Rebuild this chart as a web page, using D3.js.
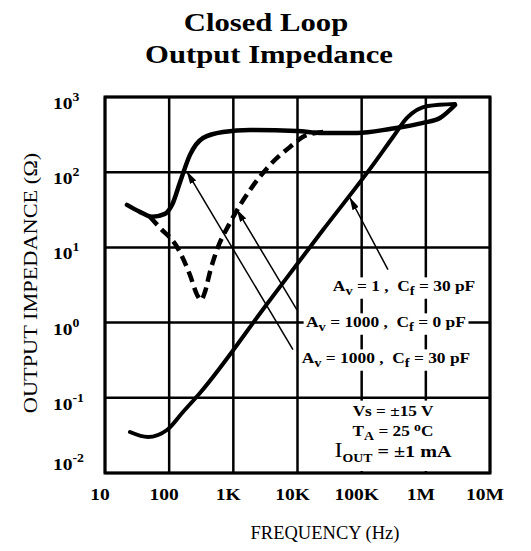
<!DOCTYPE html>
<html>
<head>
<meta charset="utf-8">
<script src="https://cdn.jsdelivr.net/npm/d3@7"></script>
<style>
    body { margin: 0; background: #fff; }
    svg { display: block; font-family: 'Liberation Serif', 'Times New Roman', serif; }
    text { white-space: pre; }
</style>
</head>
<body>
<script>
// axis ticks
const freqTicks = [10, 100, 1e3, 1e4, 1e5, 1e6, 1e7]
const freqLabels = ['10', '100', '1K', '10K', '100K', '1M', '10M']
const impTicks = [1e-2, 1e-1, 1, 10, 100, 1000]
const impExponents = ['-2', '-1', '0', '1', '2', '3']

// Av = 1000, Cf = 30 pF (solid)
const av1000Cf30Freq = [22, 35, 54, 86, 111, 148, 211, 337, 690, 1820, 9800, 25000, 84500, 276000, 904000, 1660000, 2850000]
const av1000Cf30Z = [36.8, 29.7, 25.5, 27.9, 36.8, 74, 170, 285, 343, 365, 353, 333, 333, 376, 452, 526, 783]

// Av = 1000, Cf = 0 pF (dashed)
const av1000Cf0Freq = [50, 72, 132, 211, 272, 313, 362, 433, 556, 887, 1820, 3730, 7640, 14100, 26800]
const av1000Cf0Z = [25.5, 18.2, 10.2, 4.3, 2.35, 2.0, 2.57, 4.74, 9.3, 21.2, 58, 125, 217, 313, 343]

// Av = 1, Cf = 30 pF (solid)
const av1Freq = [24.5, 46.8, 92.5, 164, 302, 3350, 24900, 150000, 308000, 508000, 1080000, 2850000]
const av1Z = [0.0351, 0.0301, 0.0373, 0.0647, 0.116, 1.77, 17.0, 125, 294, 526, 759, 807]

// annotation arrows: tip and tail in data units
const arrowTipFreq = [65800, 1140, 190]
const arrowTipZ = [45.4, 31.6, 101]
const arrowTailFreq = [257000, 9800, 8500]
const arrowTailZ = [5.05, 1.48, 0.436]

const noteFreq = [457000, 239000, 239000]
const noteZ = [2.63, 0.873, 0.29]
const noteParts = [
    [['A', ''], ['v', 'sub'], [' = 1 ,  C', ''], ['f', 'sub'], [' = 30 pF', '']],
    [['A', ''], ['v', 'sub'], [' = 1000 ,  C', ''], ['f', 'sub'], [' = 0 pF', '']],
    [['A', ''], ['v', 'sub'], [' = 1000 ,  C', ''], ['f', 'sub'], [' = 30 pF', '']]
]

const condFreq = 308000
const condZ = [0.058, 0.0315, 0.0165]

const w = 531
const h = 551

const body = d3.select('body')

const svg = body.append('svg')
    .attr('width', w)
    .attr('height', h)

const x = d3.scaleLog()
    .domain([10, 1e7])
    .range([105, 490])

const y = d3.scaleLog()
    .domain([1e-2, 1e3])
    .range([473, 97])

// text that is drawn a bit wider than the font, like the scanned original
const wideText = (parent, px, py, sx, size, bold, anchor = 'middle') => {
    const g = parent.append('g')
        .attr('transform', `translate(${px},${py}) scale(${sx},1)`)
    return g.append('text')
        .attr('text-anchor', anchor)
        .attr('font-size', size)
        .attr('font-weight', bold ? 'bold' : 'normal')
}

const defs = svg.append('defs')
defs.append('marker')
    .attr('id', 'head')
    .attr('markerUnits', 'userSpaceOnUse')
    .attr('markerWidth', 13)
    .attr('markerHeight', 7)
    .attr('refX', 12)
    .attr('refY', 3.5)
    .attr('orient', 'auto')
    .append('path')
    .attr('d', 'M0,0 L13,3.5 L0,7 Z')
    .attr('fill', '#000')

// title
wideText(svg, 266, 31, 1.18, 26, true).text('Closed Loop')
wideText(svg, 269, 63, 1.18, 26, true).text('Output Impedance')

// grid
const grid = svg.append('g')
    .attr('stroke', '#000')
    .attr('stroke-width', 2.5)

grid.selectAll('.vline')
    .data(freqTicks)
    .enter()
    .append('line')
    .attr('x1', d => x(d))
    .attr('x2', d => x(d))
    .attr('y1', y(1e-2))
    .attr('y2', y(1e3))

grid.selectAll('.hline')
    .data(impTicks)
    .enter()
    .append('line')
    .attr('x1', x(10))
    .attr('x2', x(1e7))
    .attr('y1', d => y(d))
    .attr('y2', d => y(d))

svg.append('rect')
    .attr('x', x(10))
    .attr('y', y(1e3))
    .attr('width', x(1e7) - x(10))
    .attr('height', y(1e-2) - y(1e3))
    .attr('fill', 'none')
    .attr('stroke', '#000')
    .attr('stroke-width', 3)

// tick labels
const xLabels = svg.append('g')
freqTicks.forEach((d, i) => {
    wideText(xLabels, x(d) - 5, 500, 1.15, 17, true).text(freqLabels[i])
})

const yLabels = svg.append('g')
impTicks.forEach((d, i) => {
    const t = wideText(yLabels, 53, Math.min(y(d) + 12, 470), 1.15, 17, true, 'start')
    t.append('tspan').text('10')
    t.append('tspan')
        .attr('dy', -8)
        .attr('font-size', 12)
        .text(impExponents[i])
})

// axis titles
svg.append('g')
    .attr('transform', 'translate(37, 283) rotate(-90) scale(1.24, 1)')
    .append('text')
    .attr('text-anchor', 'middle')
    .attr('font-size', 18)
    .text('OUTPUT IMPEDANCE (Ω)')

svg.append('text')
    .attr('x', 325)
    .attr('y', 539)
    .attr('text-anchor', 'middle')
    .attr('font-size', 18.5)
    .text('FREQUENCY (Hz)')

// curves
const line = d3.line()
    .x(d => x(d[0]))
    .y(d => y(d[1]))
    .curve(d3.curveMonotoneX)

const curves = svg.append('g')
    .attr('fill', 'none')
    .attr('stroke', '#000')

curves.append('path')
    .attr('d', line(d3.zip(av1Freq, av1Z)))
    .attr('stroke-width', 4)
    .attr('stroke-linecap', 'round')

curves.append('path')
    .attr('d', line(d3.zip(av1000Cf0Freq, av1000Cf0Z)))
    .attr('stroke-width', 4.5)
    .attr('stroke-dasharray', '11,6')

curves.append('path')
    .attr('d', line(d3.zip(av1000Cf30Freq, av1000Cf30Z)))
    .attr('stroke-width', 4.5)
    .attr('stroke-linecap', 'round')

// arrows
svg.append('g')
    .selectAll('line')
    .data(arrowTipFreq)
    .enter()
    .append('line')
    .attr('x1', (d, i) => x(arrowTailFreq[i]))
    .attr('y1', (d, i) => y(arrowTailZ[i]))
    .attr('x2', d => x(d))
    .attr('y2', (d, i) => y(arrowTipZ[i]))
    .attr('stroke', '#000')
    .attr('stroke-width', 1.5)
    .attr('marker-end', 'url(#head)')

// annotation labels with white backing
const notes = svg.append('g')

noteParts.forEach((parts, i) => {
    const t = wideText(notes, x(noteFreq[i]), y(noteZ[i]), 1.2, 14.5, true)
    parts.forEach(([s, kind], j) => {
        const prev = j > 0 ? parts[j - 1][1] : ''
        t.append('tspan')
            .attr('dy', kind === 'sub' ? 4 : (prev === 'sub' ? -4 : 0))
            .attr('font-size', kind === 'sub' ? 12 : null)
            .text(s)
    })
    const b = t.node().getBBox()
    d3.select(t.node().parentNode)
        .insert('rect', 'text')
        .attr('x', b.x - 2)
        .attr('y', b.y - 1)
        .attr('width', b.width + 4)
        .attr('height', b.height + 2)
        .attr('fill', '#fff')
})

// test conditions block
const cond = svg.append('g')
const cx = x(condFreq)

wideText(cond, cx, y(condZ[0]), 1.15, 15, true).text('Vs = ±15 V')

const c2 = wideText(cond, cx, y(condZ[1]), 1.15, 15, true)
c2.append('tspan').text('T')
c2.append('tspan').attr('dy', 4).attr('font-size', 12).text('A')
c2.append('tspan').attr('dy', -4).text(' = 25 ')
c2.append('tspan').attr('dy', -5).attr('font-size', 12).text('o')
c2.append('tspan').attr('dy', 5).text('C')

const c3 = wideText(cond, cx, y(condZ[2]), 1.15, 17.5, true)
c3.append('tspan').attr('font-size', 21).attr('font-weight', 'normal').text('I')
c3.append('tspan').attr('dy', 5).attr('font-size', 12).text('OUT')
c3.append('tspan').attr('dy', -5).text(' = ±1 mA')

const cb = cond.node().getBBox()
cond.insert('rect', 'g')
    .attr('x', cb.x - 5)
    .attr('y', cb.y - 2)
    .attr('width', cb.width + 10)
    .attr('height', y(1e-2) - cb.y)
    .attr('fill', '#fff')
</script>
</body>
</html>
